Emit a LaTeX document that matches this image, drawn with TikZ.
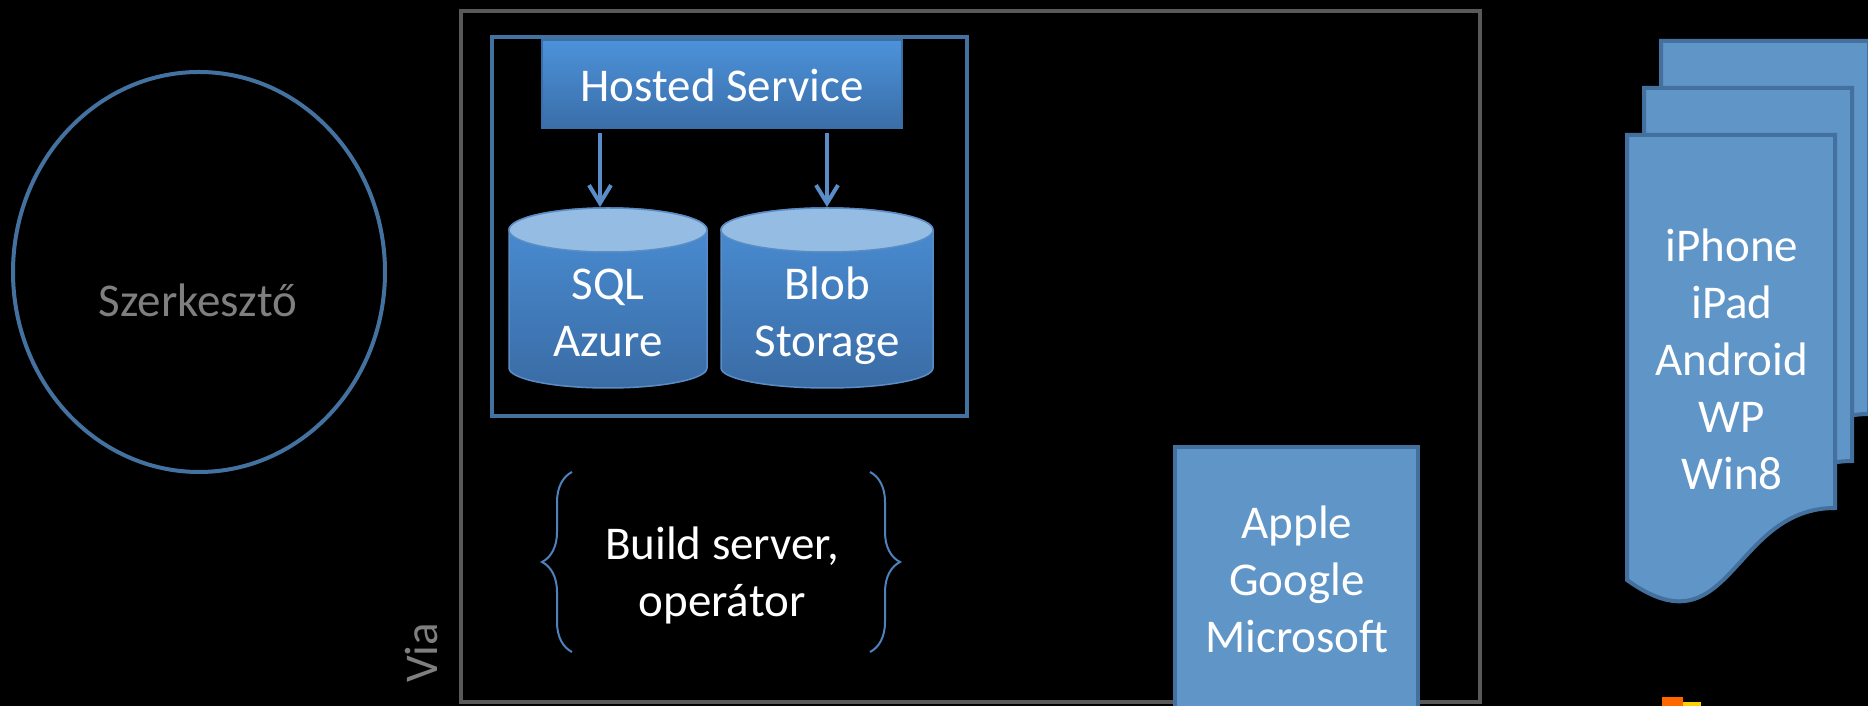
\documentclass[tikz,border=0pt]{standalone}
\usepackage{fontspec}
\setmainfont{Carlito}
\usetikzlibrary{
  arrows.meta,
  decorations.pathreplacing,
  shapes.geometric
}
\definecolor{ringblue}{HTML}{4472A0}
\definecolor{panelfill}{HTML}{6095C8}
\definecolor{paneledge}{HTML}{44709E}
\definecolor{hosttop}{HTML}{4C92DA}
\definecolor{hostbot}{HTML}{3A6EA8}
\definecolor{bodytop}{HTML}{4A8ED5}
\definecolor{bodybot}{HTML}{3A6CA5}
\definecolor{capblue}{HTML}{95BDE4}
\definecolor{cylline}{HTML}{5A8CC6}
\definecolor{feedblue}{HTML}{5A8DC8}
\definecolor{braceblue}{HTML}{4F81BD}
\definecolor{framegray}{HTML}{595959}
\definecolor{textgray}{HTML}{7F7F7F}
\tikzset{
  x = 1pt, y = 1pt,
  every node/.style = {inner sep=0pt, outer sep=0pt,
    font=\fontsize{47}{57}\selectfont},
  words/.style = {anchor=base, align=center, text=white},
  panel/.style = {draw=paneledge, line width=4pt, fill=panelfill},
  feed/.style = {-{Straight Barb[length=18pt, width=22pt]},
    line width=4pt, draw=feedblue, shorten <=5pt},
  curly/.style = {decorate, decoration={brace, amplitude=30pt},
    line width=2pt, draw=braceblue},
  cylbody/.style = {top color=bodytop, bottom color=bodybot,
    draw=cylline, line width=1.5pt},
  cylcap/.style = {fill=capblue, draw=cylline, line width=1.5pt},
}

\begin{document}
\begin{tikzpicture}
  \useasboundingbox (0,0) rectangle (1868,706);
  \clip (0,0) rectangle (1868,706);
  \fill[black] (0,0) rectangle (1868,706);

  % editor
  \node[ellipse, draw=ringblue, line width=4pt,
        minimum width=372, minimum height=400] (editor) at (199,434) {};
  \node[words, text=textgray] (editorname) at (198,389) {Szerkesztő};

  % cloud frame
  \node[draw=framegray, line width=4pt,
        minimum width=1019, minimum height=691] (frame) at (970.5,349.5) {};
  \node[words, text=textgray, rotate=90] (via) at (437,53) {Via};
  \node[draw=ringblue, line width=4.5pt,
        minimum width=475, minimum height=379] (azure) at (729.5,479.5) {};

  \node[top color=hosttop, bottom color=hostbot, draw=hostbot, line width=1.5pt,
        minimum width=360, minimum height=88] (hosted) at (722,622) {};
  \node[words] (hostedname) at (722,604) {Hosted Service};

  % storage
  \foreach \cx/\rx in {608/99, 827/106} {
    \draw[cylbody] (\cx-\rx,476) -- (\cx-\rx,338)
        arc[start angle=180, end angle=360, x radius=\rx, y radius=20]
        -- (\cx+\rx,476)
        arc[start angle=0, end angle=180, x radius=\rx, y radius=22] -- cycle;
    \draw[cylcap] (\cx,476) ellipse [x radius=\rx, y radius=22];
  }
  \coordinate (sqltop) at (600,499);
  \coordinate (blobtop) at (827,499);
  \node[words] (sql) at (608,349) {SQL\\Azure};
  \node[words] (blob) at (827,349) {Blob\\Storage};
  \draw[feed] (hosted.south -| sqltop) -- (sqltop);
  \draw[feed] (hosted.south -| blobtop) -- (blobtop);

  % build server
  \draw[curly] (572,54) -- (572,234);
  \draw[curly] (870,234) -- (870,54);
  \node[words] (build) at (722,89) {Build server,\\operátor};

  % stores
  \node[panel, minimum width=243, minimum height=279] (stores) at (1296.5,119.5) {};
  \node[words] (storenames) at (1297,53) {Apple\\Google\\Microsoft};

  % devices
  \foreach \dx/\dy in {34/94, 17/47, 0/0} {
    \draw[panel, shift={(\dx,\dy)}] (1627,571) -- (1835,571) -- (1835,198)
        .. controls (1731,198) and (1731,51) .. (1627,126) -- cycle;
  }
  \node[words] (devices) at (1732,216) {iPhone\\iPad\\Android\\WP\\Win8};

  \fill[orange!80!red] (1662,-5) rectangle (1683,9);
  \fill[yellow!70!orange] (1683,-5) rectangle (1701,4);
\end{tikzpicture}
\end{document}
